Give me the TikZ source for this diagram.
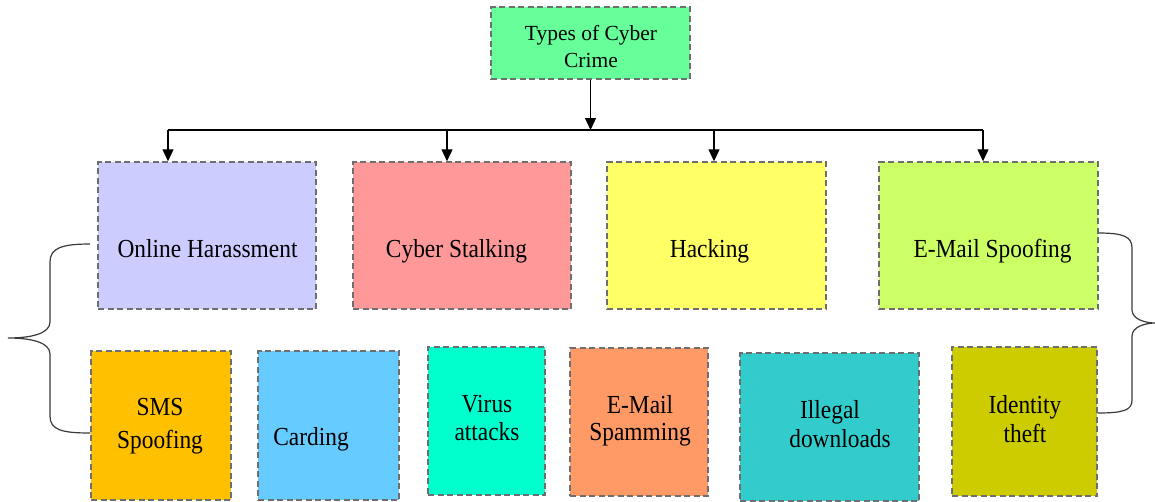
\documentclass[tikz,border=0pt]{standalone}
\usepackage{fontspec}
\setmainfont{Liberation Serif}
\usetikzlibrary{arrows.meta}

\definecolor{cTop}{HTML}{66FF99}
\definecolor{cHar}{HTML}{CCCCFF}
\definecolor{cSta}{HTML}{FF9999}
\definecolor{cHac}{HTML}{FFFF66}
\definecolor{cSpo}{HTML}{CCFF66}
\definecolor{cSms}{HTML}{FFC000}
\definecolor{cCar}{HTML}{66CCFF}
\definecolor{cVir}{HTML}{00FFCC}
\definecolor{cSpa}{HTML}{FF9966}
\definecolor{cIll}{HTML}{33CCCC}
\definecolor{cIde}{HTML}{CCCC00}
\definecolor{edge}{HTML}{6E6E6E}
\definecolor{brace}{HTML}{3A3A3A}

% slightly condensed lettering for the category labels
\newcommand\narrowtext[1]{\scalebox{0.9}[1]{#1}}

\tikzset{
  box/.style={rectangle, draw=edge, line width=1.4pt,
    dash pattern=on 6pt off 3.5pt, inner sep=0pt},
  lbl/.style={anchor=base, inner sep=0pt, text=black,
    font=\fontsize{26}{30}\selectfont},
  headlbl/.style={anchor=base, inner sep=0pt, text=black,
    font=\fontsize{21.5}{26}\selectfont},
  link/.style={line width=1.1pt, black},
  arr/.style={link, -{Triangle[length=12pt,width=11pt]}},
  bracepath/.style={line width=1.2pt, brace}
}

\begin{document}
\begin{tikzpicture}[x=1pt,y=-1pt]
\useasboundingbox (0,0) rectangle (1155,501);

% root
\node[box, fill=cTop, minimum width=199pt, minimum height=72pt] (top) at (590.5,43) {};
\node[headlbl] (top-a) at (591,40) {Types of Cyber};
\node[headlbl] (top-b) at (591,67) {Crime};

% first row
\node[box, fill=cHar, minimum width=218pt, minimum height=147pt] (har) at (207,235.5) {};
\node[box, fill=cSta, minimum width=218pt, minimum height=147pt] (sta) at (462,235.5) {};
\node[box, fill=cHac, minimum width=219pt, minimum height=147pt] (hac) at (716.5,235.5) {};
\node[box, fill=cSpo, minimum width=219pt, minimum height=147pt] (spo) at (988.5,235.5) {};
\node[lbl] (har-t) at (207.5,257) {\narrowtext{Online Harassment}};
\node[lbl] (sta-t) at (456.5,257) {\narrowtext{Cyber Stalking}};
\node[lbl] (hac-t) at (709.5,257) {\narrowtext{Hacking}};
\node[lbl] (spo-t) at (992.5,257) {\narrowtext{E-Mail Spoofing}};

% second row
\node[box, fill=cSms, minimum width=140pt, minimum height=149pt] (sms) at (161,425.5) {};
\node[box, fill=cCar, minimum width=141pt, minimum height=149pt] (car) at (328.5,425.5) {};
\node[box, fill=cVir, minimum width=117pt, minimum height=148pt] (vir) at (486.5,421) {};
\node[box, fill=cSpa, minimum width=138pt, minimum height=148pt] (spa) at (639,422) {};
\node[box, fill=cIll, minimum width=179pt, minimum height=148pt] (ill) at (829.5,427) {};
\node[box, fill=cIde, minimum width=145pt, minimum height=149pt] (ide) at (1024.5,421.5) {};

\node[lbl] (sms-a) at (160,415) {\narrowtext{SMS}};
\node[lbl] (sms-b) at (160,448) {\narrowtext{Spoofing}};
\node[lbl] (car-t) at (311,445) {\narrowtext{Carding}};
\node[lbl] (vir-a) at (487,412) {\narrowtext{Virus}};
\node[lbl] (vir-b) at (487,440) {\narrowtext{attacks}};
\node[lbl] (spa-a) at (640,413) {\narrowtext{E-Mail}};
\node[lbl] (spa-b) at (640,440) {\narrowtext{Spamming}};
\node[lbl] (ill-a) at (830,418) {\narrowtext{Illegal}};
\node[lbl] (ill-b) at (840,447) {\narrowtext{downloads}};
\node[lbl] (ide-a) at (1025,413) {\narrowtext{Identity}};
\node[lbl] (ide-b) at (1025,442) {\narrowtext{theft}};

% distribution bus
\coordinate (bus) at (590.5,130);
\coordinate (j1) at (168,130);
\coordinate (j2) at (447,130);
\coordinate (j3) at (714,130);
\coordinate (j4) at (983,130);
\draw[arr] (top.south) -- (bus);
\draw[link] (j1) -- (j4);
\draw[arr] (j1) -- (j1 |- har.north);
\draw[arr] (j2) -- (j2 |- sta.north);
\draw[arr] (j3) -- (j3 |- hac.north);
\draw[arr] (j4) -- (j4 |- spo.north);

% left brace joining Online Harassment and SMS Spoofing
\coordinate (lb-top) at (90,244);
\coordinate (lb-tip) at (8,338);
\coordinate (lb-bot) at (sms.west |- 0,433);
\draw[bracepath] (lb-top) .. controls (62,244) and (50,248) .. (50,262)
  -- (50,322) .. controls (50,334) and (30,338) .. (lb-tip)
  .. controls (30,338) and (50,342) .. (50,354)
  -- (50,416) .. controls (50,430) and (62,433) .. (lb-bot);

% right brace joining E-Mail Spoofing and Identity theft
\coordinate (rb-top) at (spo.east |- 0,233);
\coordinate (rb-tip) at (1155,323);
\coordinate (rb-bot) at (ide.east |- 0,413);
\draw[bracepath] (rb-top) .. controls (1124,233) and (1132,237) .. (1132,248)
  -- (1132,310) .. controls (1132,319) and (1145,323) .. (rb-tip)
  .. controls (1145,323) and (1132,327) .. (1132,336)
  -- (1132,400) .. controls (1132,410) and (1124,413) .. (rb-bot);
\end{tikzpicture}
\end{document}
